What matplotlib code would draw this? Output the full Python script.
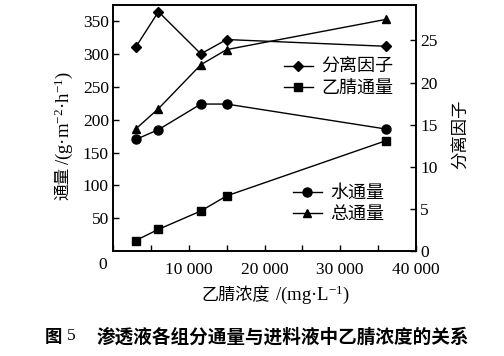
import matplotlib
matplotlib.use("Agg")
import matplotlib.pyplot as plt
from matplotlib.ticker import MultipleLocator, FuncFormatter

# ---- data ----
concentration = [3000, 6000, 11600, 15000, 36000]          # mg/L
water_flux = [170, 185, 224, 224, 186]                     # g/(m2 h)
acetonitrile_flux = [16, 33, 61, 84, 168]                  # g/(m2 h)
total_flux = [186, 217, 284, 307, 353]                     # g/(m2 h)
separation_factor = [24.2, 28.4, 23.4, 25.1, 24.3]

x_ticks = [10000, 20000, 30000, 40000]
left_ticks = [50, 100, 150, 200, 250, 300, 350]
right_ticks = [0, 5, 10, 15, 20, 25]

CJK = ["Noto Sans CJK SC", "DejaVu Sans"]
SERIF = "Liberation Serif"
plt.rcParams["font.family"] = [SERIF, "Noto Sans CJK SC"]
plt.rcParams["mathtext.fontset"] = "custom"
plt.rcParams["mathtext.rm"] = SERIF
plt.rcParams["mathtext.it"] = SERIF + ":italic"

W, H = 504, 356
fig = plt.figure(figsize=(W / 100, H / 100), dpi=100)
L, R, T, B = 113, 416, 5, 251
ax = fig.add_axes([L / W, 1 - B / H, (R - L) / W, (B - T) / H])
ax2 = ax.twinx()

lw = 1.0
h_water, = ax.plot(concentration, water_flux, "-o", color="black", lw=lw, ms=6.5)
h_total, = ax.plot(concentration, total_flux, "-^", color="black", lw=lw, ms=6)
h_an, = ax.plot(concentration, acetonitrile_flux, "-s", color="black", lw=lw, ms=5.5)
h_sf, = ax2.plot(concentration, separation_factor, "-D", color="black", lw=lw, ms=5)

ax.set_xlim(0, 40000)
ax.set_ylim(0, 375)
ax2.set_ylim(0, 29.2)

ax.set_xticks(x_ticks)
ax.xaxis.set_minor_locator(MultipleLocator(5000))
ax.xaxis.set_major_formatter(FuncFormatter(lambda v, p: f"{int(v):,}".replace(",", " ")))
ax.set_yticks(left_ticks)
ax2.set_yticks(right_ticks)

for a in (ax, ax2):
    for s in a.spines.values():
        s.set_linewidth(1.2)
ax.tick_params(axis="both", which="both", direction="in", length=4, width=1,
               labelsize=12.5, pad=3)
ax.tick_params(axis="x", which="minor", length=4)
ax.tick_params(axis="x", which="major", pad=8)
ax2.tick_params(axis="y", direction="in", length=4, width=1, labelsize=12.5, pad=3)
for lab in ax.get_xticklabels() + ax.get_yticklabels() + ax2.get_yticklabels():
    lab.set_fontfamily(SERIF)

# origin label
fig.text(103 / W, 1 - 265 / H, "0", fontsize=12.5, family=SERIF, ha="center", va="center")

# left axis label (CJK part + serif part)
fig.text(63 / W, 1 - 200 / H, "通量", rotation=90, fontsize=12,
         family=CJK, ha="center", va="bottom")
fig.text(64 / W, 1 - 165 / H, "/(g·m$^{-2}$·h$^{-1}$)", rotation=90, fontsize=13.5,
         family=SERIF, ha="center", va="bottom")
# right axis label
fig.text(460 / W, 1 - 134 / H, "分离因子", rotation=90,
         fontsize=12.5, family=CJK, ha="center", va="center")
# x axis label
fig.text(270 / W, 1 - 295 / H, "乙腈浓度", fontsize=12.3, family=CJK,
         ha="right", va="center")
fig.text(275 / W, 1 - 295 / H, "/(mg·L$^{-1}$)", fontsize=13.5, family=SERIF,
         ha="left", va="center")

# legends
leg1 = fig.legend([h_sf, h_an], ["分离因子", "乙腈通量"], loc="upper left",
                  bbox_to_anchor=(284 / W, 1 - 58 / H), frameon=False,
                  prop={"family": CJK, "size": 13}, handlelength=1.6,
                  handletextpad=0.45, labelspacing=0.2, borderpad=0, borderaxespad=0)
leg2 = fig.legend([h_water, h_total], ["水通量", "总通量"], loc="upper left",
                  bbox_to_anchor=(293 / W, 1 - 184 / H), frameon=False,
                  prop={"family": CJK, "size": 13}, handlelength=1.6,
                  handletextpad=0.45, labelspacing=0.2, borderpad=0, borderaxespad=0)

# caption
fig.text(45 / W, 1 - 337 / H, "图", fontsize=12.5, family=CJK, weight="bold",
         ha="left", va="center")
fig.text(67 / W, 1 - 336 / H, "5", fontsize=12.5, family=SERIF, ha="left", va="center")
fig.text(97 / W, 1 - 337 / H, "渗透液各组分通量与进料液中乙腈浓度的关系", fontsize=13.4,
         family=CJK, weight="bold", ha="left", va="center")

fig.savefig("out.png", dpi=100)
